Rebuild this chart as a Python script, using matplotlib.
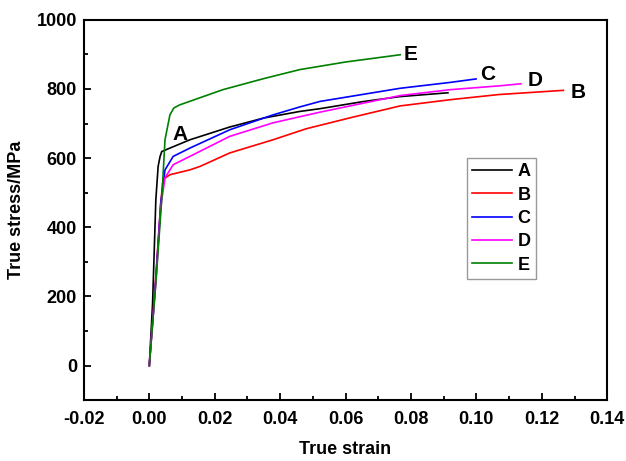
import matplotlib
matplotlib.use('Agg')
import matplotlib.pyplot as plt
from matplotlib.ticker import MultipleLocator

plt.rcParams['font.family'] = ['Liberation Sans', 'DejaVu Sans']
plt.rcParams['font.weight'] = 'bold'

# true strain / true stress (MPa)
strain_A = [0, 0.001, 0.002, 0.0027, 0.0033, 0.0038, 0.0063, 0.0124, 0.0246, 0.035, 0.046, 0.0522, 0.065, 0.0767, 0.0913]
stress_A = [0, 180, 480, 576, 605, 619, 629, 653, 690, 716, 735, 743, 763, 778, 789]

strain_B = [0, 0.002, 0.0035, 0.0042, 0.0063, 0.0124, 0.0155, 0.0246, 0.0378, 0.048, 0.062, 0.0767, 0.092, 0.107, 0.1266]
stress_B = [0, 260, 470, 538, 552, 566, 576, 615, 653, 685, 718, 751, 769, 784, 796]

strain_C = [0, 0.002, 0.0035, 0.0048, 0.0073, 0.0124, 0.0246, 0.0378, 0.046, 0.0522, 0.0767, 0.092, 0.0999]
stress_C = [0, 250, 470, 566, 605, 629, 682, 725, 748, 764, 802, 819, 829]

strain_D = [0, 0.002, 0.0035, 0.0048, 0.0073, 0.0124, 0.0246, 0.0378, 0.0522, 0.0767, 0.092, 0.107, 0.1136]
stress_D = [0, 240, 460, 543, 581, 605, 663, 702, 733, 781, 798, 809, 815]

strain_E = [0, 0.002, 0.0038, 0.0048, 0.0063, 0.0075, 0.0093, 0.0225, 0.035, 0.046, 0.06, 0.0767]
stress_E = [0, 240, 480, 653, 725, 745, 754, 798, 830, 856, 878, 899]

names = ['A', 'B', 'C', 'D', 'E']
colors = ['black', 'red', 'blue', 'magenta', 'green']
label_pos = {'A': (0.0093, 668), 'B': (0.131, 789), 'C': (0.1035, 841),
             'D': (0.118, 825), 'E': (0.080, 899)}

fig = plt.figure(figsize=(6.26, 4.61), dpi=100)
ax = fig.add_axes([0.134, 0.132, 0.836, 0.825])

curves = [(strain_A, stress_A), (strain_B, stress_B), (strain_C, stress_C),
          (strain_D, stress_D), (strain_E, stress_E)]
for (x, y), n, c in zip(curves, names, colors):
    ax.plot(x, y, color=c, lw=1.2, label=n)
    ax.text(label_pos[n][0], label_pos[n][1], n, fontsize=15, fontweight='bold',
            ha='center', va='center')

ax.set_xlim(-0.02, 0.14)
ax.set_ylim(-100, 1000)
ax.xaxis.set_major_locator(MultipleLocator(0.02))
ax.xaxis.set_minor_locator(MultipleLocator(0.01))
ax.yaxis.set_major_locator(MultipleLocator(200))
ax.yaxis.set_minor_locator(MultipleLocator(100))
ax.set_yticks([0, 200, 400, 600, 800, 1000])
ax.set_xticklabels(['%.2f' % v for v in ax.get_xticks()])
ax.tick_params(which='both', direction='in', labelsize=13, width=1.3)
ax.tick_params(which='major', length=5)
ax.tick_params(which='minor', length=3)
ax.tick_params(axis='x', pad=8)
ax.tick_params(axis='y', pad=5)
for s in ax.spines.values():
    s.set_linewidth(1.5)

ax.set_xlabel('True strain', fontsize=13, fontweight='bold', labelpad=9)
ax.set_ylabel('True stress/MPa', fontsize=13, fontweight='bold', labelpad=8)

leg = ax.legend(loc='upper left', bbox_to_anchor=(0.732, 0.637), fancybox=False,
                edgecolor='gray', fontsize=13, handlelength=2.2, borderpad=0.3,
                labelspacing=0.35, handletextpad=0.3, borderaxespad=0)
leg.get_frame().set_linewidth(1.0)

fig.savefig('out.png', dpi=100)
